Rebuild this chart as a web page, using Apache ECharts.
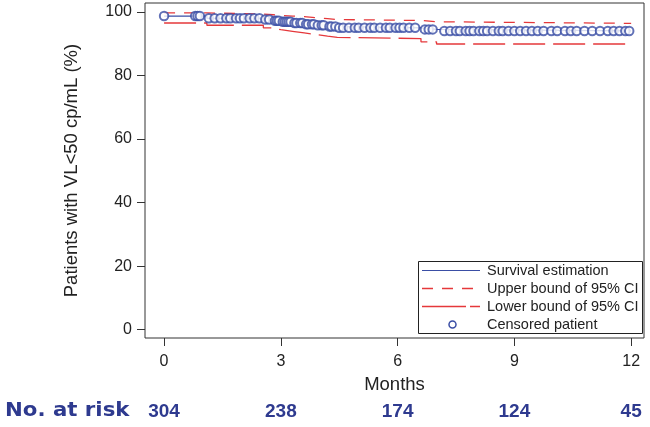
<!DOCTYPE html>
<html>
<head>
<meta charset="utf-8">
<script src="https://cdn.jsdelivr.net/npm/echarts@6/dist/echarts.min.js"></script>
<style>
html,body{margin:0;padding:0;background:#fff;}
#chart{width:650px;height:427px;}
</style>
</head>
<body>
<div id="chart"></div>
<script>
// ---- data ----
var kmTimes   = [0, 1.1, 2.55, 2.8, 3.0, 3.3, 3.6, 3.9, 4.2, 4.45, 6.6, 7.0, 12.0];
var kmValues  = [98.7, 98.0, 97.6, 97.2, 96.9, 96.5, 96.1, 95.8, 95.4, 95.0, 94.5, 94.0, 94.0];
var upperValues = [99.7, 99.3, 99.1, 98.9, 98.7, 98.5, 98.2, 97.9, 97.6, 97.3, 96.9, 96.4, 96.4];
var lowerValues = [96.5, 95.8, 95.0, 94.4, 93.9, 93.4, 92.9, 92.4, 92.0, 91.6, 90.6, 89.9, 89.9];

var censorTimes = [0, 0.8, 0.86, 0.92,
  1.15, 1.3, 1.45, 1.6, 1.7, 1.85, 1.95, 2.05, 2.2, 2.32, 2.45,
  2.6, 2.7,
  2.85, 2.9, 2.95,
  3.05, 3.1, 3.15, 3.2, 3.25,
  3.35, 3.4, 3.5, 3.55,
  3.65, 3.7, 3.8, 3.85,
  3.95, 4.05, 4.1,
  4.25, 4.3, 4.4,
  4.5, 4.6, 4.75, 4.9, 5.0, 5.15, 5.3, 5.4, 5.55, 5.7, 5.8, 5.95, 6.05, 6.15, 6.3, 6.45,
  6.7, 6.8, 6.9,
  7.2, 7.35, 7.5, 7.6, 7.75, 7.85, 7.95, 8.1, 8.2, 8.3, 8.45, 8.6, 8.7, 8.85, 9.0, 9.15, 9.3, 9.45, 9.6, 9.75, 9.95, 10.1, 10.3, 10.45, 10.6, 10.8, 11.0, 11.2, 11.4, 11.55, 11.7, 11.85, 11.95];
var censorValues = [98.7, 98.7, 98.7, 98.7,
  98.0, 98.0, 98.0, 98.0, 98.0, 98.0, 98.0, 98.0, 98.0, 98.0, 98.0,
  97.6, 97.6,
  97.2, 97.2, 97.2,
  96.9, 96.9, 96.9, 96.9, 96.9,
  96.5, 96.5, 96.5, 96.5,
  96.1, 96.1, 96.1, 96.1,
  95.8, 95.8, 95.8,
  95.4, 95.4, 95.4,
  95.0, 95.0, 95.0, 95.0, 95.0, 95.0, 95.0, 95.0, 95.0, 95.0, 95.0, 95.0, 95.0, 95.0, 95.0, 95.0,
  94.5, 94.5, 94.5,
  94.0, 94.0, 94.0, 94.0, 94.0, 94.0, 94.0, 94.0, 94.0, 94.0, 94.0, 94.0, 94.0, 94.0, 94.0, 94.0, 94.0, 94.0, 94.0, 94.0, 94.0, 94.0, 94.0, 94.0, 94.0, 94.0, 94.0, 94.0, 94.0, 94.0, 94.0, 94.0, 94.0];

var xTicks = [0, 3, 6, 9, 12];
var yTicks = [0, 20, 40, 60, 80, 100];
var riskMonths = [0, 3, 6, 9, 12];
var riskCounts = [304, 238, 174, 124, 45];

var legendNames = ['Survival estimation', 'Upper bound of 95% CI', 'Lower bound of 95% CI', 'Censored patient'];

// ---- styles ----
var BLUE = '#3a4ea5';
var RED = '#e5383b';
var NAVY = '#2e3a8f';
var FONT = 'Liberation Sans, Arial, sans-serif';
var TXT = '#222';

function pairs(xs, ys) { return xs.map(function (x, i) { return [x, ys[i]]; }); }

var chart = echarts.init(document.getElementById('chart'), null, {renderer: 'canvas'});

var legX = 418, legY = 261, legW = 224, legH = 72, rowH = 18;
var graphics = [
  {type: 'rect', shape: {x: legX + 0.5, y: legY + 0.5, width: legW, height: legH}, style: {fill: '#fff', stroke: '#222', lineWidth: 1}, z: 100},
  {type: 'line', shape: {x1: legX + 4, y1: legY + 9.5, x2: legX + 62, y2: legY + 9.5}, style: {stroke: BLUE, lineWidth: 1.2}, z: 101},
  {type: 'line', shape: {x1: legX + 4, y1: legY + 9.5 + rowH, x2: legX + 62, y2: legY + 9.5 + rowH}, style: {stroke: RED, lineWidth: 1.3, lineDash: [11, 9]}, z: 101},
  {type: 'line', shape: {x1: legX + 4, y1: legY + 9.5 + 2 * rowH, x2: legX + 62, y2: legY + 9.5 + 2 * rowH}, style: {stroke: RED, lineWidth: 1.3, lineDash: [44, 4]}, z: 101},
  {type: 'circle', shape: {cx: legX + 34.5, cy: legY + 9.5 + 3 * rowH, r: 3.5}, style: {fill: '#fff', stroke: BLUE, lineWidth: 1.5}, z: 101},
  {type: 'text', x: 5, y: 411, scaleX: 1.12, style: {text: 'No. at risk', font: 'bold 19px "DejaVu Sans", sans-serif', fill: NAVY, verticalAlign: 'middle'}, z: 100}
];
legendNames.forEach(function (n, i) {
  graphics.push({type: 'text', x: legX + 69, y: legY + 9.5 + i * rowH, style: {text: n, font: '14.5px ' + FONT, fill: TXT, verticalAlign: 'middle'}, z: 101});
});

var option = {
  animation: false,
  backgroundColor: '#fff',
  grid: {left: 145, right: 6, top: 3, bottom: 89, show: true, borderColor: '#333', borderWidth: 1, containLabel: false},
  xAxis: [{
    type: 'value', min: -0.49, max: 12.33,
    name: 'Months', nameLocation: 'middle', nameGap: 37,
    nameTextStyle: {fontSize: 18.5, fontFamily: FONT, color: TXT},
    axisLine: {show: false, onZero: false},
    splitLine: {show: false},
    axisTick: {show: true, length: 8, customValues: xTicks, lineStyle: {color: '#333', width: 1}},
    axisLabel: {customValues: xTicks, fontSize: 16, fontFamily: FONT, color: TXT, margin: 16}
  }, {
    type: 'value', min: -0.49, max: 12.33, position: 'bottom', offset: 64,
    axisLine: {show: false, onZero: false}, splitLine: {show: false}, axisTick: {show: false},
    axisLabel: {customValues: riskMonths, fontSize: 19, fontWeight: 'bold', fontFamily: FONT, color: NAVY, margin: 0,
      formatter: function (v) { var i = riskMonths.indexOf(v); return i >= 0 ? String(riskCounts[i]) : ''; }}
  }],
  yAxis: {
    type: 'value', min: -2.6, max: 102.8,
    name: 'Patients with VL<50 cp/mL (%)', nameLocation: 'middle', nameGap: 64, nameRotate: 90,
    nameTextStyle: {fontSize: 18.5, fontFamily: FONT, color: TXT},
    axisLine: {show: false, onZero: false},
    splitLine: {show: false},
    axisTick: {show: true, length: 8, customValues: yTicks, lineStyle: {color: '#333', width: 1}},
    axisLabel: {customValues: yTicks, fontSize: 16, fontFamily: FONT, color: TXT, margin: 13}
  },
  graphic: graphics,
  series: [
    {name: legendNames[1], type: 'line', step: 'end', data: pairs(kmTimes, upperValues), showSymbol: false, symbol: 'none',
      lineStyle: {color: RED, width: 1.3, type: [11, 9]}, z: 2},
    {name: legendNames[2], type: 'line', step: 'end', data: pairs(kmTimes, lowerValues), showSymbol: false, symbol: 'none',
      lineStyle: {color: RED, width: 1.3, type: [32, 8]}, z: 2},
    {name: legendNames[0], type: 'line', step: 'end', data: pairs(kmTimes, kmValues), showSymbol: false, symbol: 'none',
      lineStyle: {color: BLUE, width: 1.2}, z: 3},
    {name: legendNames[3], type: 'scatter', data: pairs(censorTimes, censorValues), symbol: 'emptyCircle', symbolSize: 8.5,
      itemStyle: {color: BLUE, borderColor: BLUE, borderWidth: 1.5}, z: 4}
  ]
};
chart.setOption(option);
</script>
</body>
</html>
